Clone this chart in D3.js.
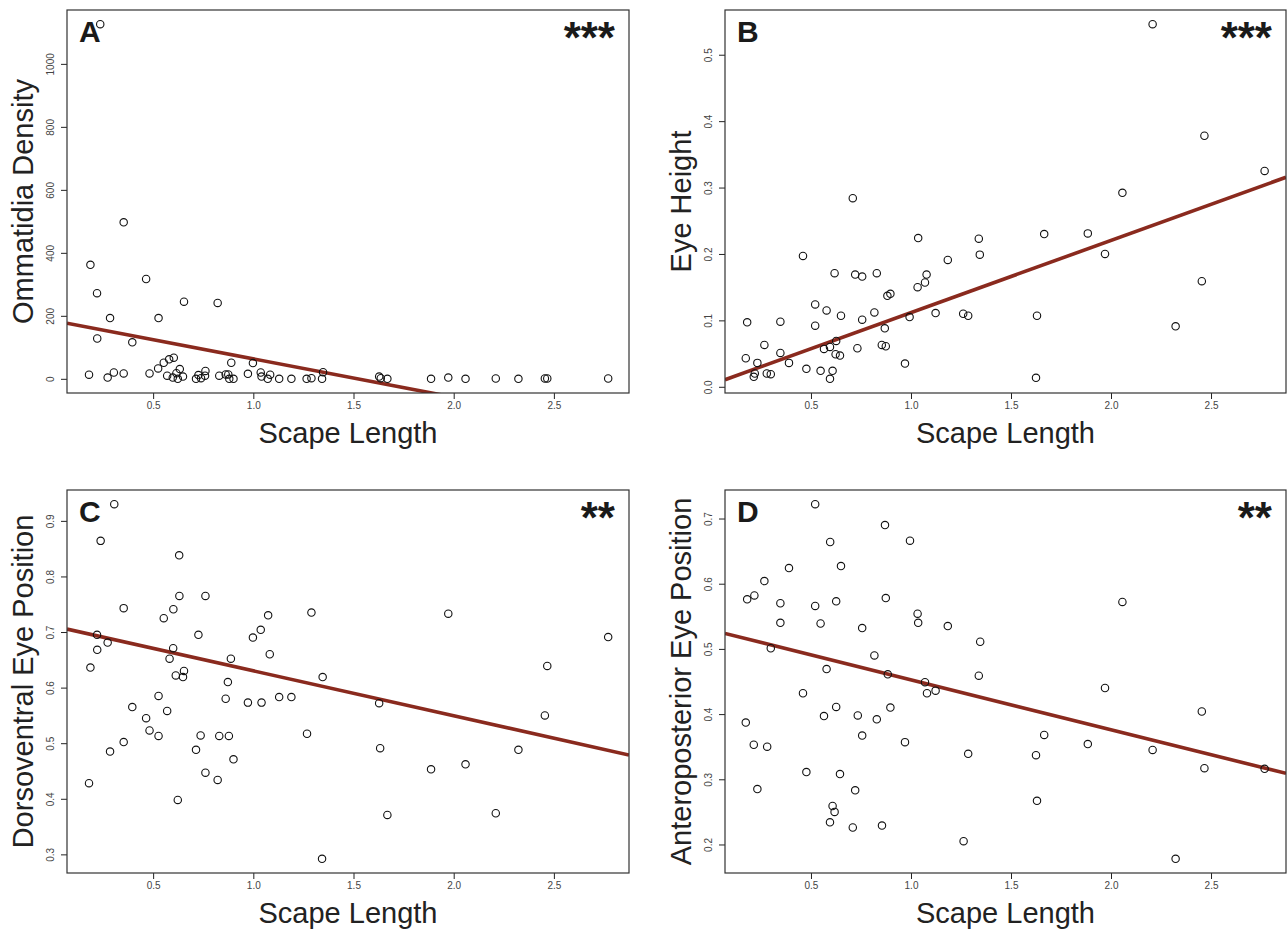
<!DOCTYPE html>
<html>
<head>
<meta charset="utf-8">
<script src="https://d3js.org/d3.v7.min.js"></script>
<style>
  body { margin: 0; background: #fff; }
  svg { display: block; font-family: "Liberation Sans", Arial, Helvetica, sans-serif; }
</style>
</head>
<body>
<div id="chart"></div>
<script>
// ---- data ----
// A: scape length vs ommatidia density
var scapeA   = [0.236,0.353,0.187,0.465,0.220,0.654,0.822,0.285,0.527,0.221,0.396,0.603,0.580,0.553,0.890,0.998,0.525,0.180,0.273,0.304,
                0.353,0.482,0.570,0.598,0.616,0.633,0.623,0.649,0.714,0.726,0.739,0.759,0.761,0.830,0.862,0.875,0.880,0.901,0.973,1.037,
                1.041,1.072,1.084,1.129,1.190,1.266,1.290,1.343,1.348,1.628,1.636,1.669,1.887,1.973,2.059,2.210,2.323,2.455,2.467,2.771];
var densityA = [1126,497,362,317,272,245,241,193,193,128,116,67,62,51,51,50,33,13,4,20,
                17,17,10,4,18,31,0,7,0,12,2,10,25,10,14,14,0,0,16,20,
                7,0,13,0,0,0,2,0,21,7,2,0,0,4,0,1,0,1,1,1];

// B: scape length vs eye height
var scapeB  = [0.709,0.460,1.036,1.184,0.618,0.721,0.756,0.829,1.078,1.070,1.033,0.897,0.882,0.521,0.578,0.817,1.123,1.261,1.286,0.650,
               0.993,0.181,0.347,0.756,0.521,0.869,0.626,0.267,0.854,0.874,0.595,0.565,0.732,0.347,0.623,0.645,0.174,0.232,0.390,0.970,
               0.477,0.548,0.608,0.279,0.299,0.219,0.214,0.595,1.339,1.344,2.208,2.467,2.768,2.057,1.666,1.884,1.970,2.454,1.630,2.323,1.625];
var heightB = [0.284,0.197,0.224,0.191,0.171,0.169,0.166,0.171,0.169,0.157,0.150,0.140,0.137,0.124,0.115,0.112,0.111,0.110,0.107,0.107,
               0.105,0.097,0.098,0.101,0.092,0.088,0.069,0.063,0.063,0.061,0.060,0.057,0.058,0.051,0.049,0.047,0.043,0.036,0.036,0.035,
               0.027,0.024,0.024,0.020,0.019,0.020,0.015,0.012,0.223,0.199,0.546,0.378,0.325,0.292,0.230,0.231,0.200,0.159,0.107,0.091,0.0135];

// C: scape length vs dorsoventral eye position
var scapeC = [0.306,0.238,0.630,0.631,0.761,0.353,0.601,0.553,1.074,1.290,1.037,0.998,0.220,0.726,0.273,0.221,0.600,0.582,0.888,1.082,
              0.187,0.654,0.613,0.649,1.346,0.873,0.527,1.129,1.190,0.862,0.973,1.041,0.396,0.570,0.465,0.482,0.737,0.527,0.830,0.878,
              1.268,0.353,0.285,0.714,0.901,0.761,0.822,0.180,0.623,1.343,1.973,2.771,2.467,1.628,2.455,1.633,2.323,2.059,1.887,2.210,1.669];
var dvPosC = [0.930,0.864,0.838,0.765,0.765,0.743,0.741,0.725,0.730,0.735,0.704,0.690,0.695,0.695,0.681,0.668,0.671,0.652,0.652,0.660,
              0.636,0.630,0.622,0.619,0.619,0.610,0.585,0.583,0.583,0.580,0.573,0.573,0.565,0.558,0.545,0.523,0.514,0.513,0.513,0.513,
              0.517,0.502,0.485,0.488,0.471,0.447,0.434,0.428,0.398,0.292,0.733,0.691,0.639,0.572,0.550,0.491,0.488,0.462,0.453,0.374,0.371];

// D: scape length vs anteroposterior eye position
var scapeD = [0.521,0.870,0.596,0.995,0.650,0.390,0.267,0.181,0.217,0.874,0.626,0.347,0.521,1.033,1.036,0.347,0.548,0.756,1.184,0.299,
              0.817,0.578,0.884,1.070,1.080,1.123,0.460,0.626,0.897,0.734,0.565,0.829,0.174,0.756,0.970,0.214,0.281,1.286,0.477,0.645,
              0.232,0.721,0.608,0.618,0.595,0.709,0.855,1.263,1.346,1.339,2.057,1.970,2.454,1.666,1.884,2.208,1.625,2.467,2.768,1.630,2.323];
var apPosD = [0.722,0.690,0.664,0.666,0.627,0.624,0.604,0.576,0.582,0.578,0.573,0.570,0.566,0.554,0.540,0.540,0.539,0.532,0.535,0.501,
              0.490,0.469,0.461,0.449,0.432,0.436,0.432,0.411,0.410,0.398,0.397,0.392,0.387,0.367,0.357,0.353,0.350,0.339,0.311,0.308,
              0.285,0.283,0.259,0.250,0.234,0.226,0.229,0.205,0.511,0.459,0.572,0.440,0.404,0.368,0.354,0.345,0.337,0.317,0.316,0.267,0.178];

// fitted lines (intercept, slope) as drawn
var fitIntercepts = [185, 0.003, 0.711, 0.529];
var fitSlopes     = [-121.7, 0.1087, -0.0808, -0.0765];

var panelLetters = ["A", "B", "C", "D"];
var signifStars  = ["***", "***", "**", "**"];
var yTitles      = ["Ommatidia Density", "Eye Height", "Dorsoventral Eye Position", "Anteroposterior Eye Position"];
var xTitle       = "Scape Length";
var xTickVals    = [0.5, 1.0, 1.5, 2.0, 2.5];
var yTickVals    = [[0, 200, 400, 600, 800, 1000],
                    [0.0, 0.1, 0.2, 0.3, 0.4, 0.5],
                    [0.3, 0.4, 0.5, 0.6, 0.7, 0.8, 0.9],
                    [0.2, 0.3, 0.4, 0.5, 0.6, 0.7]];
var yTickFmt     = [d3.format("d"), d3.format(".1f"), d3.format(".1f"), d3.format(".1f")];

// ---- layout ----
var W = 1287, H = 930;
var boxes = [
  {left: 67,  top: 10,  width: 562, height: 383},
  {left: 725, top: 10,  width: 561, height: 383},
  {left: 67,  top: 490, width: 562, height: 383},
  {left: 725, top: 490, width: 561, height: 383}
];
var xs = [scapeA, scapeB, scapeC, scapeD];
var ys = [densityA, heightB, dvPosC, apPosD];

var svg = d3.select("#chart").append("svg")
  .attr("width", W).attr("height", H);

// R style: extend the data range by 4% each side
function rRange(v) {
  var e = d3.extent(v), pad = (e[1] - e[0]) * 0.04;
  return [e[0] - pad, e[1] + pad];
}
var xDomain = rRange(d3.merge(xs));

boxes.forEach(function(b, i) {
  var g = svg.append("g").attr("transform", "translate(" + b.left + "," + b.top + ")");

  var x = d3.scaleLinear().domain(xDomain).range([0, b.width]);
  var y = d3.scaleLinear().domain(rRange(ys[i])).range([b.height, 0]);

  g.append("clipPath").attr("id", "clip" + i)
    .append("rect").attr("width", b.width).attr("height", b.height);

  // x axis ticks
  var xa = g.append("g").attr("transform", "translate(0," + b.height + ")")
    .call(d3.axisBottom(x).tickValues(xTickVals).tickFormat(d3.format(".1f")).tickSize(6).tickPadding(3));
  xa.select(".domain").remove();
  xa.selectAll("line").attr("stroke", "#222");
  xa.selectAll("text").attr("font-size", 10).attr("fill", "#444")
    .attr("font-family", "Liberation Sans, Arial, sans-serif");

  // y axis ticks, labels parallel to axis
  var ya = g.append("g")
    .call(d3.axisLeft(y).tickValues(yTickVals[i]).tickFormat(yTickFmt[i]).tickSize(6));
  ya.select(".domain").remove();
  ya.selectAll("line").attr("stroke", "#222");
  ya.selectAll("text")
    .attr("x", null).attr("dy", null)
    .attr("transform", "translate(-13,0) rotate(-90)")
    .attr("text-anchor", "middle")
    .attr("font-size", 10).attr("fill", "#444")
    .attr("font-family", "Liberation Sans, Arial, sans-serif");

  // regression line
  var x0 = xDomain[0], x1 = xDomain[1];
  g.append("line")
    .attr("clip-path", "url(#clip" + i + ")")
    .attr("x1", x(x0)).attr("y1", y(fitIntercepts[i] + fitSlopes[i] * x0))
    .attr("x2", x(x1)).attr("y2", y(fitIntercepts[i] + fitSlopes[i] * x1))
    .attr("stroke", "#8a2a1e").attr("stroke-width", 3.6);

  // points
  g.selectAll("circle.pt").data(d3.zip(xs[i], ys[i])).enter()
    .append("circle").attr("class", "pt")
    .attr("cx", function(d) { return x(d[0]); })
    .attr("cy", function(d) { return y(d[1]); })
    .attr("r", 3.7)
    .attr("fill", "none").attr("stroke", "#111").attr("stroke-width", 1.1);

  // box
  g.append("rect").attr("width", b.width).attr("height", b.height)
    .attr("fill", "none").attr("stroke", "#333").attr("stroke-width", 1.2);

  // panel letter and stars
  g.append("text").attr("x", 12).attr("y", 32)
    .attr("font-size", 30).attr("font-weight", "bold").attr("fill", "#1a1a1a")
    .text(panelLetters[i]);
  g.append("text").attr("x", b.width - 14).attr("y", 43)
    .attr("text-anchor", "end")
    .attr("font-size", 44).attr("font-weight", "bold").attr("fill", "#1a1a1a")
    .text(signifStars[i]);

  // axis titles
  g.append("text").attr("x", b.width / 2).attr("y", b.height + 50)
    .attr("text-anchor", "middle").attr("font-size", 29).attr("fill", "#222")
    .text(xTitle);
  g.append("text")
    .attr("transform", "translate(-34," + (b.height / 2) + ") rotate(-90)")
    .attr("text-anchor", "middle").attr("font-size", 29).attr("fill", "#222")
    .text(yTitles[i]);
});
</script>
</body>
</html>
